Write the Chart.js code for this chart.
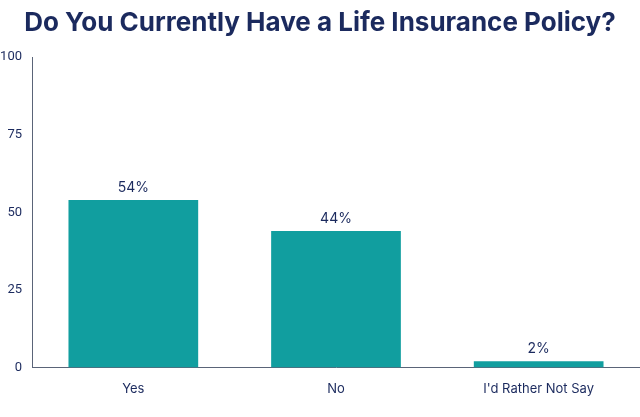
<!DOCTYPE html>
<html><head><meta charset="utf-8">
<script src="https://cdn.jsdelivr.net/npm/chart.js@4"></script>
<style>html,body{margin:0;padding:0;background:#fff}#wrap{width:640px;height:417px}</style>
</head><body><div id="wrap"><canvas id="c" width="640" height="417"></canvas></div>
<script>
const titleText = "Do You Currently Have a Life Insurance Policy?";
const categories = ["Yes", "No", "I'd Rather Not Say"];
const values = [54, 44, 2];
const yTicks = [0, 25, 50, 75, 100];

const navy = '#1b2a5e';
const teal = '#119e9f';
const fontFam = 'Inter, Roboto, sans-serif';

const labelPlugin = {
  id: 'valLabels',
  afterDatasetsDraw(chart) {
    const ctx = chart.ctx;
    const meta = chart.getDatasetMeta(0);
    ctx.save();
    ctx.fillStyle = navy;
    ctx.font = '14px ' + fontFam;
    ctx.textAlign = 'center';
    ctx.textBaseline = 'bottom';
    meta.data.forEach((bar, i) => {
      ctx.fillText(values[i] + '%', bar.x, bar.y - 5);
    });
    ctx.restore();
  }
};

new Chart(document.getElementById('c'), {
  type: 'bar',
  data: {
    labels: categories,
    datasets: [{
      data: values,
      backgroundColor: teal,
      barPercentage: 0.64,
      categoryPercentage: 1.0
    }]
  },
  options: {
    responsive: false,
    animation: false,
    layout: { padding: { left: 0, right: 0, top: 0, bottom: 14 } },
    plugins: {
      legend: { display: false },
      tooltip: { enabled: false },
      title: {
        display: true,
        text: titleText,
        color: navy,
        font: { family: fontFam, size: 26, weight: 'bold' },
        padding: { top: 8, bottom: 18 }
      }
    },
    scales: {
      x: {
        grid: { display: false },
        border: { display: true, color: '#5a6478', width: 1 },
        ticks: { color: navy, font: { family: fontFam, size: 13 }, padding: 6 }
      },
      y: {
        min: 0, max: 100,
        afterBuildTicks(scale) { scale.ticks = yTicks.map(v => ({ value: v })); },
        afterFit(scale) { scale.width = 32; },
        grid: { display: false, tickLength: 0 },
        border: { display: true, color: '#5a6478', width: 1 },
        ticks: { color: navy, font: { family: 'Roboto, sans-serif', size: 13 }, padding: 10 }
      }
    }
  },
  plugins: [labelPlugin]
});
</script></body></html>
